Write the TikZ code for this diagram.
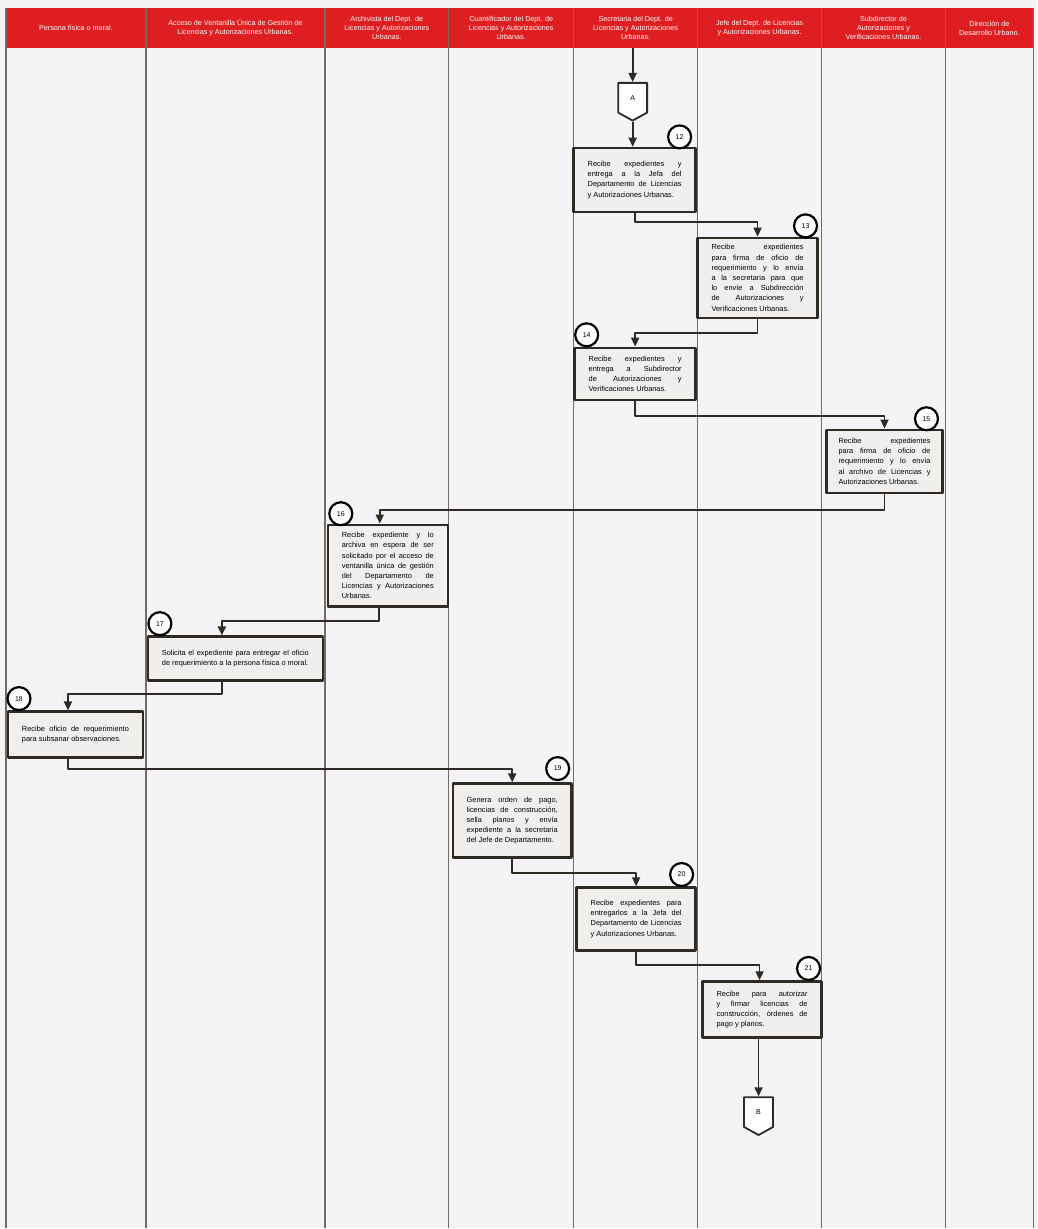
\documentclass[tikz,border=0pt]{standalone}
\usepackage{fontspec}
\setmainfont{Liberation Sans}
\usetikzlibrary{arrows.meta,shapes.symbols}

\definecolor{rojo}{RGB}{222,30,32}
\definecolor{fondo}{RGB}{244,244,246}
\definecolor{carrilgris}{RGB}{118,108,98}
\definecolor{marco}{RGB}{48,42,36}
\definecolor{caja}{RGB}{240,239,238}

% sin guiones en los textos
\hyphenpenalty=10000
\exhyphenpenalty=10000
\tolerance=10000

\begin{document}
\begin{tikzpicture}[x=1pt, y=-1pt, line join=round,
    encabezado/.style={text=white, align=center, inner sep=0pt,
        font=\fontsize{7.2}{9}\selectfont},
    carril/.style={draw=carrilgris, line width=1.4pt},
    paso/.style={draw=marco, line width=2.4pt, fill=caja, align=justify,
        inner xsep=14pt, inner ysep=5pt, font=\fontsize{7.4}{10.2}\selectfont},
    numero/.style={circle, draw=black, line width=2.2pt, fill=white, minimum size=23pt,
        inner sep=0pt, font=\fontsize{7}{8}\selectfont},
    conector/.style={signal, signal to=south, signal pointer angle=122, draw=marco,
        line width=1.8pt, fill=white, minimum width=29pt, minimum height=31pt,
        inner sep=0pt, anchor=north, font=\fontsize{7}{8}\selectfont},
    flujo/.style={draw=marco, line width=1.8pt, -{Triangle[width=8pt,length=9pt]}}]

    % ==========================================
    % 1. Fondo, encabezado y carriles
    % ==========================================
    \fill[fondo] (0,0) rectangle (1038,1229);
    \fill[rojo] (5,8) rectangle (1035,48);
    \foreach \x in {6,146,325,449,574,698,822,946,1034}
        \draw[carril] (\x,8) -- (\x,1229);

    \node[encabezado] (h1) at (76,28) {Persona física o moral.};
    \node[encabezado] (h2) at (235.5,28) {Acceso de Ventanilla Única de Gestión de\\Licencias y Autorizaciones Urbanas.};
    \node[encabezado] (h3) at (387,28) {Archivista del Dept. de\\Licencias y Autorizaciones\\Urbanas.};
    \node[encabezado] (h4) at (511.5,28) {Cuantificador del Dept. de\\Licencias y Autorizaciones\\Urbanas.};
    \node[encabezado] (h5) at (636,28) {Secretaria del Dept. de\\Licencias y Autorizaciones\\Urbanas.};
    \node[encabezado] (h6) at (760,28) {Jefe del Dept. de Licencias\\y Autorizaciones Urbanas.};
    \node[encabezado] (h7) at (884,28) {Subdirector de\\Autorizaciones y\\Verificaciones Urbanas.};
    \node[encabezado] (h8) at (990,28) {Dirección de\\Desarrollo Urbano.};

    % ==========================================
    % 2. Actividades
    % ==========================================
    \coordinate (inicio) at (633,48);
    \node[conector] (A) at (633,82) {A};

    \node[paso, text width=94pt, minimum height=64pt] (paso12) at (635,180)
        {Recibe expedientes y entrega a la Jefa del Departamento de Licencias y Autorizaciones Urbanas.};
    \node[paso, text width=92pt, minimum height=80pt] (paso13) at (758,278)
        {Recibe expedientes para firma de oficio de requerimiento y lo envía a la secretaria para que lo envíe a Subdirección de Autorizaciones y Verificaciones Urbanas.};
    \node[paso, text width=93pt, minimum height=52pt] (paso14) at (635.5,374)
        {Recibe expedientes y entrega a Subdirector de Autorizaciones y Verificaciones Urbanas.};
    \node[paso, text width=92pt, minimum height=63pt, inner xsep=12pt] (paso15) at (885,461.5)
        {Recibe expedientes para firma de oficio de requerimiento y lo envía al archivo de Licencias y Autorizaciones Urbanas.};
    \node[paso, text width=92pt, minimum height=82pt] (paso16) at (388,566)
        {Recibe expediente y lo archiva en espera de ser solicitado por el acceso de ventanilla única de gestión del Departamento de Licencias y Autorizaciones Urbanas.};
    \node[paso, text width=147pt, minimum height=44pt] (paso17) at (235.5,659)
        {Solicita el expediente para entregar el oficio de requerimiento a la persona física o moral.};
    \node[paso, text width=107pt, minimum height=46pt] (paso18) at (75.5,735)
        {Recibe oficio de requerimiento para subsanar observaciones.};
    \node[paso, text width=91pt, minimum height=74pt] (paso19) at (512.5,821)
        {Genera orden de pago, licencias de construcción, sella planos y envía expediente a la secretaria del Jefe de Departamento.};
    \node[paso, text width=91pt, minimum height=63pt] (paso20) at (636.5,919.5)
        {Recibe expedientes para entregarlos a la Jefa del Departamento de Licencias y Autorizaciones Urbanas.};
    \node[paso, text width=91pt, minimum height=56pt] (paso21) at (762.5,1010)
        {Recibe para autorizar y firmar licencias de construcción, órdenes de pago y planos.};

    \node[conector] (B) at (759,1097) {B};

    % numeros de actividad
    \node[numero] (num12) at (680,137) {12};
    \node[numero] (num13) at (806,226) {13};
    \node[numero] (num14) at (587,335) {14};
    \node[numero] (num15) at (927,419) {15};
    \node[numero] (num16) at (341,514) {16};
    \node[numero] (num17) at (160,624) {17};
    \node[numero] (num18) at (19,699) {18};
    \node[numero] (num19) at (558,769) {19};
    \node[numero] (num20) at (682,875) {20};
    \node[numero] (num21) at (809,969) {21};

    % ==========================================
    % 3. Flujo
    % ==========================================
    \draw[flujo] (inicio) -- (A.north);
    \draw[flujo] (A.south) -- (A.south |- paso12.north);
    \draw[flujo] (paso12.south) -- ++(0,9) -| (paso13.north);
    \draw[flujo] (paso13.south) -- ++(0,14) -| (paso14.north);
    \draw[flujo] (paso14.south) -- ++(0,15) -| (paso15.north);
    \draw[flujo] (paso15.south) -- ++(0,16) -| ([xshift=-8pt]paso16.north);
    \draw[flujo] ([xshift=-9pt]paso16.south) -- ++(0,13) -| ([xshift=-13.5pt]paso17.north);
    \draw[flujo] ([xshift=-13.5pt]paso17.south) -- ++(0,12) -| ([xshift=-7.5pt]paso18.north);
    \draw[flujo] ([xshift=-7.5pt]paso18.south) -- ++(0,10) -| (paso19.north);
    \draw[flujo] (paso19.south) -- ++(0,14) -| (paso20.north);
    \draw[flujo] (paso20.south) -- ++(0,13) -| ([xshift=-2.5pt]paso21.north);
    \draw[flujo] (B.north |- paso21.south) -- (B.north);

\end{tikzpicture}
\end{document}
